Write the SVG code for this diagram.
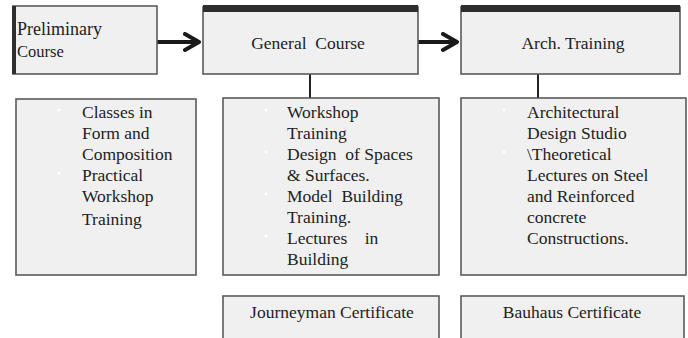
<svg xmlns="http://www.w3.org/2000/svg" width="688" height="338" viewBox="0 0 688 338">
<defs>
<style>
.box{fill:#f0f0f0;stroke:#5a5a5a;stroke-width:1.6}
.bar{fill:#2e2e2e}
.t{font-family:"Liberation Serif","Times New Roman",serif;font-size:17.5px;fill:#222222}
.c{text-anchor:middle}
.conn{stroke:#1a1a1a;stroke-width:4;fill:none}
.vl{stroke:#222;stroke-width:2;fill:none}
.dot{fill:#ffffff}
</style>
<marker id="chev" markerUnits="userSpaceOnUse" markerWidth="24" markerHeight="24" refX="16" refY="10" orient="auto" viewBox="0 0 24 24">
<path d="M2,2 L16,10 L2,18" fill="none" stroke="#1a1a1a" stroke-width="4" stroke-linejoin="round" stroke-linecap="round"/>
</marker>
</defs>
<rect width="688" height="338" fill="#ffffff"/>
<g id="connectors">
<path class="conn" d="M157,42 L199,42" marker-end="url(#chev)"/>
<path class="conn" d="M418,42 L457,42" marker-end="url(#chev)"/>
<path class="vl" d="M310,74 L310,98"/>
<path class="vl" d="M538,74 L538,98"/>
</g>
<g id="preliminary">
<rect class="box" x="13" y="6" width="144" height="68"/>
<rect class="bar" x="12" y="6" width="4" height="68"/>
<text class="t" x="17" y="35" style="font-size:18px">Preliminary</text>
<text class="t" x="17" y="57" style="font-size:16.5px">Course</text>
</g>
<g id="general">
<rect class="box" x="203" y="7" width="215" height="67"/>
<rect class="bar" x="203" y="5" width="215" height="7"/>
<text class="t c" x="308" y="49" xml:space="preserve">General  Course</text>
</g>
<g id="arch">
<rect class="box" x="461" y="7" width="219" height="67"/>
<rect class="bar" x="461" y="5" width="219" height="7"/>
<text class="t c" x="573" y="49">Arch. Training</text>
</g>
<g id="prelim-content">
<rect class="box" x="16" y="99" width="180" height="176"/>
<circle class="dot" cx="59" cy="110" r="1.5"/>
<circle class="dot" cx="59" cy="173" r="1.5"/>
<text class="t" x="82" y="118">Classes in</text>
<text class="t" x="82" y="139">Form and</text>
<text class="t" x="82" y="160">Composition</text>
<text class="t" x="82" y="181">Practical</text>
<text class="t" x="82" y="202">Workshop</text>
<text class="t" x="82" y="225">Training</text>
</g>
<g id="general-content">
<rect class="box" x="223" y="98" width="216" height="177"/>
<circle class="dot" cx="266" cy="110" r="1.5"/>
<circle class="dot" cx="266" cy="152" r="1.5"/>
<circle class="dot" cx="266" cy="194" r="1.5"/>
<circle class="dot" cx="266" cy="236" r="1.5"/>
<text class="t" x="287" y="118">Workshop</text>
<text class="t" x="287" y="139">Training</text>
<text class="t" x="287" y="160" xml:space="preserve">Design  of Spaces</text>
<text class="t" x="287" y="181">&amp; Surfaces.</text>
<text class="t" x="287" y="202" xml:space="preserve">Model  Building</text>
<text class="t" x="287" y="223">Training.</text>
<text class="t" x="287" y="244" xml:space="preserve">Lectures    in</text>
<text class="t" x="287" y="265">Building</text>
</g>
<g id="arch-content">
<rect class="box" x="461" y="98" width="225" height="177"/>
<circle class="dot" cx="504" cy="110" r="1.5"/>
<circle class="dot" cx="504" cy="152" r="1.5"/>
<text class="t" x="527" y="118">Architectural</text>
<text class="t" x="527" y="139">Design Studio</text>
<text class="t" x="527" y="160">\Theoretical</text>
<text class="t" x="527" y="181">Lectures on Steel</text>
<text class="t" x="527" y="202">and Reinforced</text>
<text class="t" x="527" y="223">concrete</text>
<text class="t" x="527" y="244">Constructions.</text>
</g>
<g id="journeyman">
<rect class="box" x="223" y="296" width="216" height="50"/>
<text class="t c" x="332" y="318">Journeyman Certificate</text>
</g>
<g id="bauhaus">
<rect class="box" x="461" y="296" width="223" height="50"/>
<text class="t c" x="572" y="318">Bauhaus Certificate</text>
</g>
</svg>
